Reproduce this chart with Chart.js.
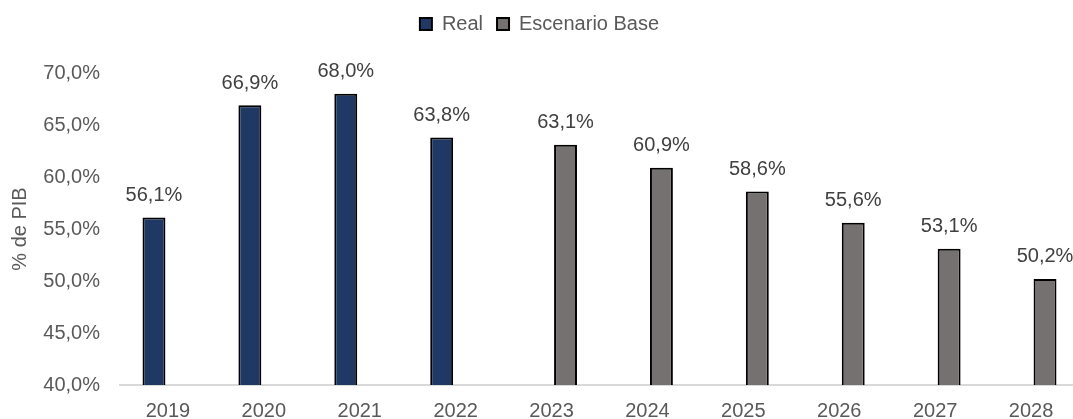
<!DOCTYPE html>
<html>
<head>
<meta charset="utf-8">
<script src="https://cdn.jsdelivr.net/npm/chart.js@4"></script>
<style>
  html, body { margin: 0; padding: 0; background: #fff; overflow: hidden; }
  #wrap { width: 1080px; height: 419px; position: relative; }
</style>
</head>
<body>
<div id="wrap"><canvas id="deuda-chart"></canvas></div>
<script>
  const years = ["2019", "2020", "2021", "2022", "2023", "2024", "2025", "2026", "2027", "2028"];
  const realValues = [56.1, 66.9, 68.0, 63.8, null, null, null, null, null, null];
  const baseValues = [null, null, null, null, 63.1, 60.9, 58.6, 55.6, 53.1, 50.2];
  const yTicks = [40, 45, 50, 55, 60, 65, 70];

  const FONT = "'Liberation Sans', Arial, sans-serif";
  const TEXT = "#595959";

  function fmtPct(v) {
    return v.toFixed(1).replace(".", ",") + "%";
  }

  // no datalabels plugin available offline, so draw the value labels by hand
  const valueLabels = {
    id: "valueLabels",
    afterDatasetsDraw: function (chart) {
      const ctx = chart.ctx;
      ctx.save();
      ctx.font = "20px " + FONT;
      ctx.fillStyle = "#404040";
      ctx.textAlign = "center";
      ctx.textBaseline = "middle";
      chart.data.datasets.forEach(function (ds, i) {
        const meta = chart.getDatasetMeta(i);
        meta.data.forEach(function (bar, j) {
          const v = ds.data[j];
          if (v == null) return;
          ctx.fillText(fmtPct(v), bar.x, bar.y - 22);
        });
      });
      ctx.restore();
    },
  };

  // push the plot area down a bit below the legend
  const legendGap = {
    id: "legendGap",
    beforeInit: function (chart) {
      const fit = chart.legend.fit;
      chart.legend.fit = function () {
        fit.call(this);
        this.height += 29;
      };
    },
  };

  new Chart(document.getElementById("deuda-chart"), {
    type: "bar",
    data: {
      labels: years,
      datasets: [
        {
          label: "Real",
          data: realValues,
          backgroundColor: "#1F3864",
          borderColor: "#000000",
          borderWidth: 2,
          borderSkipped: false,
          categoryPercentage: 0.583,
          barPercentage: 0.82,
        },
        {
          label: "Escenario Base",
          data: baseValues,
          backgroundColor: "#767171",
          borderColor: "#000000",
          borderWidth: 2,
          borderSkipped: false,
          categoryPercentage: 0.583,
          barPercentage: 0.82,
        },
      ],
    },
    options: {
      responsive: true,
      maintainAspectRatio: false,
      animation: false,
      layout: { padding: { top: 0, right: 1, left: 0, bottom: 0 } },
      plugins: {
        legend: {
          position: "top",
          labels: {
            font: { size: 20, family: FONT },
            color: TEXT,
            boxWidth: 12,
            boxHeight: 12,
            padding: 14,
          },
        },
        tooltip: { enabled: false },
      },
      scales: {
        x: {
          grid: { display: false, drawTicks: false },
          border: { color: "#D9D9D9", width: 2 },
          ticks: { font: { size: 20, family: FONT }, color: TEXT, padding: 14, maxRotation: 0 },
          afterFit: function (scale) { scale.height = 34; },
        },
        y: {
          min: 40,
          max: 70,
          afterBuildTicks: function (scale) {
            scale.ticks = yTicks.map(function (v) { return { value: v }; });
          },
          grid: { display: false, drawTicks: false },
          border: { display: false },
          ticks: {
            font: { size: 20, family: FONT },
            color: TEXT,
            padding: 20,
            callback: function (v) { return fmtPct(v); },
          },
          title: {
            display: true,
            text: "% de PIB",
            font: { size: 20, family: FONT },
            color: TEXT,
            padding: { top: 8, bottom: 0 },
          },
          afterFit: function (scale) { scale.width = 120; },
        },
      },
    },
    plugins: [valueLabels, legendGap],
  });
</script>
</body>
</html>
